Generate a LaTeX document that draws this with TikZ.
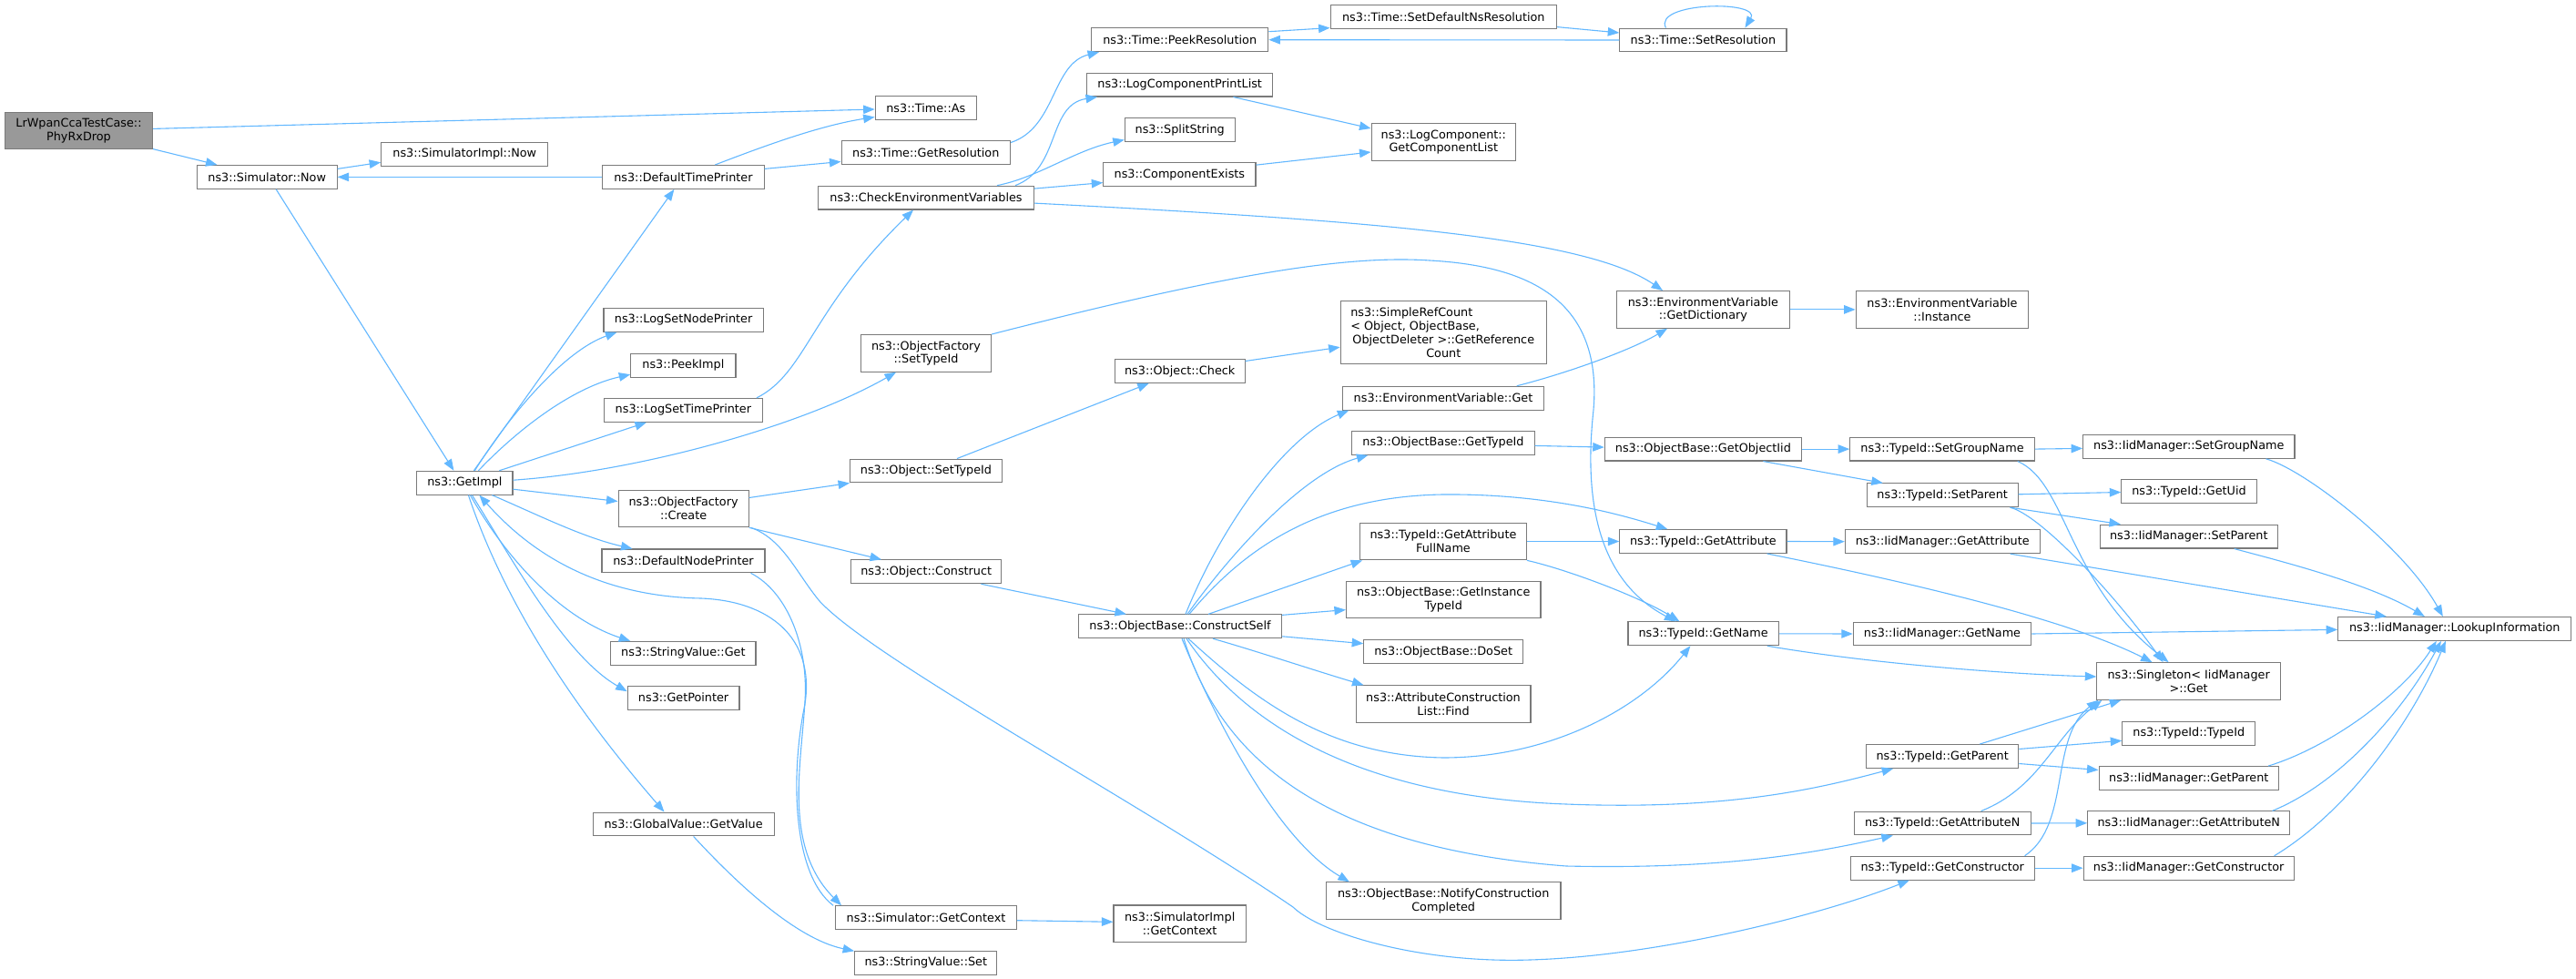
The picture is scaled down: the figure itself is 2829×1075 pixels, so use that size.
\documentclass[tikz,border=0pt]{standalone}
\usepackage{fontspec}
\setmainfont{DejaVu Sans}
\usetikzlibrary{arrows.meta,calc}
\definecolor{edgeblue}{HTML}{63B8FF}
\definecolor{boxgray}{HTML}{7A7A7A}
\definecolor{rootgray}{HTML}{999999}
\begin{document}
\begin{tikzpicture}[x=1pt,y=-1pt,
  fnbox/.style={draw=boxgray, fill=white, line width=1.1pt, inner sep=0pt, align=center,
    font=\fontsize{12.8}{14.8}\selectfont, minimum height=25.8},
  two/.style={minimum height=40.6},
  ln/.style={draw=edgeblue, line width=1.1pt, -{Triangle[length=12.5pt,width=9.5pt]}}]
\fill[white] (0,0) rectangle (2829,1075);
\useasboundingbox (0,0) rectangle (2829,1075);
% ---------------- nodes ----------------
\node[fnbox,two,fill=rootgray,minimum width=162] (lr) at (86.5,143.6) {LrWpanCcaTestCase::\\PhyRxDrop};
\node[fnbox,minimum width=153.8] (simnow) at (293.2,194.4) {ns3::Simulator::Now};
\node[fnbox,minimum width=183.2] (simimplnow) at (510.3,169.3) {ns3::SimulatorImpl::Now};
\node[fnbox,minimum width=177.5] (dtp) at (750.4,194.4) {ns3::DefaultTimePrinter};
\node[fnbox,minimum width=175.2] (lsnp) at (750.6,351.4) {ns3::LogSetNodePrinter};
\node[fnbox,minimum width=115.1] (peek) at (750.4,401.2) {ns3::PeekImpl};
\node[fnbox,minimum width=173.8] (lstp) at (750.4,450.4) {ns3::LogSetTimePrinter};
\node[fnbox,minimum width=105.1] (getimpl) at (510.4,530.2) {ns3::GetImpl};
\node[fnbox,two,minimum width=143.1] (ofcreate) at (750.6,558.5) {ns3::ObjectFactory\\::Create};
\node[fnbox,minimum width=179] (dnp) at (750.5,615.9) {ns3::DefaultNodePrinter};
\node[fnbox,minimum width=159.1] (svget) at (750.4,717.4) {ns3::StringValue::Get};
\node[fnbox,minimum width=122.8] (getptr) at (750.6,766.2) {ns3::GetPointer};
\node[fnbox,minimum width=199.1] (gvget) at (750.6,905) {ns3::GlobalValue::GetValue};
\node[fnbox,minimum width=111.2] (timeas) at (1016.8,118.5) {ns3::Time::As};
\node[fnbox,minimum width=185.5] (getres) at (1016.8,167.5) {ns3::Time::GetResolution};
\node[fnbox,minimum width=236.5] (cev) at (1017,217.1) {ns3::CheckEnvironmentVariables};
\node[fnbox,two,minimum width=142.8] (ofsettype) at (1017,387.9) {ns3::ObjectFactory\\::SetTypeId};
\node[fnbox,minimum width=166.7] (objsettype) at (1017,517) {ns3::Object::SetTypeId};
\node[fnbox,minimum width=165.3] (objconstruct) at (1017.2,627.8) {ns3::Object::Construct};
\node[fnbox,minimum width=198.8] (simgetctx) at (1017,1007.7) {ns3::Simulator::GetContext};
\node[fnbox,minimum width=156.2] (svset) at (1016.8,1057.3) {ns3::StringValue::Set};
\node[fnbox,minimum width=194.2] (peekres) at (1295.7,43.7) {ns3::Time::PeekResolution};
\node[fnbox,minimum width=204.3] (lcpl) at (1295.7,93.1) {ns3::LogComponentPrintList};
\node[fnbox,minimum width=120.8] (split) at (1295.7,142.5) {ns3::SplitString};
\node[fnbox,minimum width=167.1] (compexists) at (1295.4,191.6) {ns3::ComponentExists};
\node[fnbox,minimum width=142.8] (objcheck) at (1295.7,407.5) {ns3::Object::Check};
\node[fnbox,minimum width=223.1] (constructself) at (1296,687.8) {ns3::ObjectBase::ConstructSelf};
\node[fnbox,two,minimum width=145.5] (simimplctx) at (1295.7,1014.3) {ns3::SimulatorImpl\\::GetContext};
\node[fnbox,minimum width=248.4] (setdefns) at (1585.3,18.6) {ns3::Time::SetDefaultNsResolution};
\node[fnbox,two,minimum width=158.5] (lcgcl) at (1585.3,156) {ns3::LogComponent::\\GetComponentList};
\node[fnbox,minimum width=226.3,minimum height=69.2] (simplerefcount) at (1585.3,365.2)
  {\makebox[204pt][l]{ns3::SimpleRefCount}\\\makebox[204pt][l]{< Object, ObjectBase,}\\ObjectDeleter >::GetReference\\Count};
\node[fnbox,minimum width=220.4] (evget) at (1585,437.2) {ns3::EnvironmentVariable::Get};
\node[fnbox,minimum width=200.2] (obgettypeid) at (1585,486.4) {ns3::ObjectBase::GetTypeId};
\node[fnbox,two,minimum width=182.7] (tidgafn) at (1585,594.5) {ns3::TypeId::GetAttribute\\FullName};
\node[fnbox,two,minimum width=213.5] (obgit) at (1585.2,658.6) {ns3::ObjectBase::GetInstance\\TypeId};
\node[fnbox,minimum width=174.9] (doset) at (1585.2,715.7) {ns3::ObjectBase::DoSet};
\node[fnbox,two,minimum width=191.9] (acfind) at (1585,773.1) {ns3::AttributeConstruction\\List::Find};
\node[fnbox,two,minimum width=257.5] (notify) at (1585.2,989.2) {ns3::ObjectBase::NotifyConstruction\\Completed};
\node[fnbox,minimum width=183.2] (setres) at (1870.4,44) {ns3::Time::SetResolution};
\node[fnbox,two,minimum width=189.6] (getdict) at (1870.4,339.9) {ns3::EnvironmentVariable\\::GetDictionary};
\node[fnbox,minimum width=216.2] (getobjiid) at (1870.4,493.1) {ns3::ObjectBase::GetObjectIid};
\node[fnbox,minimum width=183.2] (tidgetattr) at (1870.4,594.5) {ns3::TypeId::GetAttribute};
\node[fnbox,minimum width=165.3] (tidgetname) at (1870.6,695.8) {ns3::TypeId::GetName};
\node[fnbox,two,minimum width=189.7] (evinst) at (2133,339.9) {ns3::EnvironmentVariable\\::Instance};
\node[fnbox,minimum width=202.5] (tidsetgroup) at (2133,493.1) {ns3::TypeId::SetGroupName};
\node[fnbox,minimum width=165.7] (tidsetparent) at (2133.2,543.8) {ns3::TypeId::SetParent};
\node[fnbox,minimum width=213.7] (iidgetattr) at (2133.2,594.7) {ns3::IidManager::GetAttribute};
\node[fnbox,minimum width=195.4] (iidgetname) at (2133,696) {ns3::IidManager::GetName};
\node[fnbox,minimum width=167] (tidgetparent) at (2133.2,830.5) {ns3::TypeId::GetParent};
\node[fnbox,minimum width=193.7] (tidgetattrn) at (2133.2,904) {ns3::TypeId::GetAttributeN};
\node[fnbox,minimum width=201.7] (tidgetctor) at (2133.2,953.2) {ns3::TypeId::GetConstructor};
\node[fnbox,minimum width=232.3] (iidsetgroup) at (2403.8,490.4) {ns3::IidManager::SetGroupName};
\node[fnbox,minimum width=148.3] (tidgetuid) at (2404,539.5) {ns3::TypeId::GetUid};
\node[fnbox,minimum width=194.7] (iidsetparent) at (2403.8,589.1) {ns3::IidManager::SetParent};
\node[fnbox,two,minimum width=201.5] (singleton) at (2403.6,748) {ns3::Singleton< IidManager\\>::Get};
\node[fnbox,minimum width=146] (tidtypeid) at (2403.8,805.3) {ns3::TypeId::TypeId};
\node[fnbox,minimum width=197.5] (iidgetparent) at (2403.8,854.5) {ns3::IidManager::GetParent};
\node[fnbox,minimum width=222.2] (iidgetattrn) at (2403.8,903.8) {ns3::IidManager::GetAttributeN};
\node[fnbox,minimum width=230.9] (iidgetctor) at (2403.6,953.2) {ns3::IidManager::GetConstructor};
\node[fnbox,minimum width=256.2] (lookup) at (2695.8,690.4) {ns3::IidManager::LookupInformation};
% ---------------- edges ----------------
\draw[ln] (lr) -- (timeas);
\draw[ln] (lr) -- (simnow);
\draw[ln] ($(simnow.east)+(0,-9)$) -- ($(simimplnow.west)+(0,9)$);
\draw[ln] ($(simnow.south)+(10,0)$) -- ($(getimpl.north)+(-12,0)$);
\draw[ln] (dtp.west) -- (simnow.east);
\draw[ln] ($(dtp.north)+(35,0)$) .. controls (840,160) and (900,138) .. ($(timeas.west)+(0,10)$);
\draw[ln] ($(dtp.east)+(0,-9)$) -- ($(getres.west)+(0,10)$);
\draw[ln] ($(getres.east)+(0,-11)$) .. controls (1160,140) and (1155,70) .. ($(peekres.south west)+(9,0)$);
\draw[ln] ($(peekres.east)+(0,-9)$) -- ($(setdefns.west)+(0,12)$);
\draw[ln] ($(setdefns.east)+(0,11)$) -- ($(setres.west)+(0,-8)$);
\draw[ln] (setres.west) -- (peekres.east);
\draw[ln] ($(setres.north)+(-41,0)$) .. controls (1815,2) and (1935,0) .. ($(setres.north)+(46,0)$);
\draw[ln] ($(getimpl.north)+(10,0)$) -- ($(dtp.south)+(-10,0)$);
\draw[ln] ($(getimpl.north)+(11,0)$) .. controls (560,455) and (620,385) .. ($(lsnp.south west)+(15,0)$);
\draw[ln] ($(getimpl.north)+(15,0)$) .. controls (570,470) and (630,425) .. ($(peek.west)+(0,10)$);
\draw[ln] ($(getimpl.north)+(38,0)$) -- ($(lstp.south west)+(47,0)$);
\draw[ln] ($(getimpl.east)+(0,-3)$) .. controls (700,518) and (880,468) .. ($(ofsettype.south west)+(39,0)$);
\draw[ln] ($(getimpl.east)+(0,7)$) -- ($(ofcreate.west)+(0,-8)$);
\draw[ln] ($(getimpl.south)+(30,0)$) .. controls (590,565) and (640,590) .. ($(dnp.north west)+(34,0)$);
\draw[ln] ($(simgetctx.north west)+(-2,0)$) .. controls (870,960) and (868,850) .. (884,773)
  .. controls (895,700) and (845,660) .. (770,657) .. controls (660,655) and (585,610) .. ($(getimpl.south)+(16,0)$);
\draw[ln] ($(getimpl.south)+(6,0)$) .. controls (560,620) and (620,680) .. ($(svget.north west)+(22,0)$);
\draw[ln] ($(getimpl.south)+(8,0)$) .. controls (560,610) and (620,720) .. ($(getptr.west)+(0,-7)$);
\draw[ln] ($(getimpl.south)+(4,0)$) .. controls (560,680) and (650,800) .. ($(gvget.north west)+(79,0)$);
\draw[ln] ($(gvget.south)+(11,0)$) .. controls (800,960) and (870,1030) .. ($(svset.west)+(0,-13)$);
\draw[ln] ($(dnp.south east)+(-16,0)$) .. controls (865,650) and (888,710) .. (884,770)
  .. controls (880,840) and (860,930) .. ($(simgetctx.north west)+(7,0)$);
\draw[ln] ($(simgetctx.east)+(0,3)$) -- ($(simimplctx.west)+(0,-2)$);
\draw[ln] ($(lstp.north east)+(-7,0)$) .. controls (885,410) and (890,340) .. ($(cev.south)+(-14,0)$);
\draw[ln] ($(cev.north)+(98,0)$) .. controls (1165,185) and (1150,115) .. ($(lcpl.south west)+(12,0)$);
\draw[ln] ($(cev.north)+(78,0)$) .. controls (1140,195) and (1180,165) .. ($(split.west)+(0,11)$);
\draw[ln] ($(cev.east)+(0,-10)$) -- ($(compexists.west)+(0,9)$);
\draw[ln] ($(cev.east)+(0,6)$) .. controls (1500,242) and (1740,260) .. ($(getdict.north west)+(51,0)$);
\draw[ln] ($(lcpl.south east)+(-44,0)$) -- ($(lcgcl.west)+(0,-15)$);
\draw[ln] ($(compexists.north east)+(0,3)$) -- ($(lcgcl.west)+(0,11)$);
\draw[ln] (ofsettype.north east) .. controls (1350,300) and (1480,280) .. (1570,286)
  .. controls (1680,292) and (1760,330) .. (1750,450) .. controls (1738,560) and (1760,640) .. ($(tidgetname.north west)+(53,0)$);
\draw[ln] ($(ofcreate.east)+(0,-12)$) -- (objsettype.south west);
\draw[ln] (ofcreate.south east) -- ($(objconstruct.north west)+(34,0)$);
\draw[ln] ($(ofcreate.south east)+(2,0)$) .. controls (860,592) and (875,630) .. (900,660)
  .. controls (960,725) and (1250,880) .. (1420,996) .. controls (1450,1025) and (1560,1058) .. (1680,1054)
  .. controls (1820,1050) and (2000,1005) .. ($(tidgetctor.south west)+(65,0)$);
\draw[ln] ($(objsettype.north)+(34,0)$) -- ($(objcheck.south west)+(38,0)$);
\draw[ln] ($(objcheck.east)+(0,-11)$) -- ($(simplerefcount.west)+(0,16)$);
\draw[ln] ($(objconstruct.south east)+(-23,0)$) -- ($(constructself.north west)+(53,0)$);
\draw[ln] ($(constructself.north)+(6,0)$) .. controls (1340,580) and (1410,480) .. ($(evget.south west)+(7,0)$);
\draw[ln] ($(constructself.north)+(8,0)$) .. controls (1350,610) and (1430,520) .. ($(obgettypeid.south west)+(18,0)$);
\draw[ln] ($(constructself.north)+(10,0)$) .. controls (1360,610) and (1440,545) .. (1585,543)
  .. controls (1700,542) and (1780,565) .. ($(tidgetattr.north west)+(53,0)$);
\draw[ln] ($(constructself.north)+(31,0)$) -- ($(tidgafn.south west)+(3,0)$);
\draw[ln] ($(constructself.north east)+(0,1)$) -- ($(obgit.west)+(0,11)$);
\draw[ln] ($(constructself.east)+(0,11)$) -- ($(doset.west)+(0,-9)$);
\draw[ln] ($(constructself.south)+(36,0)$) .. controls (1380,715) and (1440,735) .. ($(acfind.north west)+(9,0)$);
\draw[ln] ($(constructself.south)+(9,0)$) .. controls (1380,770) and (1460,830) .. (1585,832)
  .. controls (1700,832) and (1800,780) .. ($(tidgetname.south west)+(69,0)$);
\draw[ln] ($(constructself.south)+(7,0)$) .. controls (1370,800) and (1500,875) .. (1720,883)
  .. controls (1900,890) and (2000,865) .. ($(tidgetparent.south west)+(30,0)$);
\draw[ln] ($(constructself.south)+(4,0)$) .. controls (1340,830) and (1450,930) .. (1720,951)
  .. controls (1900,955) and (2000,935) .. ($(tidgetattrn.south west)+(43,0)$);
\draw[ln] ($(constructself.south)+(2,0)$) .. controls (1330,780) and (1400,920) .. ($(notify.north west)+(26,0)$);
\draw[ln] ($(evget.north east)+(-30,0)$) .. controls (1720,410) and (1790,385) .. ($(getdict.south west)+(56,0)$);
\draw[ln] (getdict.east) -- (evinst.west);
\draw[ln] ($(obgettypeid.east)+(0,3)$) -- ($(getobjiid.west)+(0,-2)$);
\draw[ln] (getobjiid.east) -- (tidsetgroup.west);
\draw[ln] ($(getobjiid.south)+(66,0)$) -- ($(tidsetparent.north west)+(18,0)$);
\draw[ln] (tidsetgroup.east) -- ($(iidsetgroup.west)+(0,2)$);
\draw[ln] ($(tidsetgroup.south east)+(-19,0)$) .. controls (2270,530) and (2270,640) .. ($(singleton.north)+(-22,0)$);
\draw[ln] ($(tidsetparent.east)+(0,-1)$) -- ($(tidgetuid.west)+(0,1)$);
\draw[ln] ($(tidsetparent.south east)+(-9,0)$) -- ($(iidsetparent.north west)+(23,0)$);
\draw[ln] ($(tidsetparent.south east)+(-9,0)$) .. controls (2240,565) and (2320,650) .. ($(singleton.north)+(-28,0)$);
\draw[ln] ($(iidsetgroup.south east)+(-32,0)$) .. controls (2530,515) and (2640,600) .. ($(lookup.north)+(-13,0)$);
\draw[ln] ($(iidsetparent.south east)+(-48,0)$) .. controls (2500,615) and (2600,640) .. ($(lookup.north)+(-33,0)$);
\draw[ln] (tidgafn.east) -- (tidgetattr.west);
\draw[ln] (tidgafn.south east) .. controls (1720,625) and (1800,655) .. ($(tidgetname.north west)+(57,0)$);
\draw[ln] (tidgetattr.east) -- (iidgetattr.west);
\draw[ln] ($(tidgetattr.south east)+(-22,0)$) .. controls (2100,640) and (2270,680) .. ($(singleton.north)+(-40,0)$);
\draw[ln] ($(iidgetattr.south east)+(-33,0)$) -- ($(lookup.north)+(-75,0)$);
\draw[ln] (tidgetname.east) -- (iidgetname.west);
\draw[ln] ($(tidgetname.south east)+(-13,0)$) .. controls (2050,728) and (2200,740) .. ($(singleton.west)+(0,-5)$);
\draw[ln] (iidgetname.east) -- ($(lookup.west)+(0,1)$);
\draw[ln] ($(tidgetparent.north east)+(-43,0)$) -- ($(singleton.south west)+(27,0)$);
\draw[ln] ($(tidgetparent.east)+(0,-8)$) -- ($(tidtypeid.west)+(0,8)$);
\draw[ln] ($(tidgetparent.east)+(0,8)$) -- ($(iidgetparent.west)+(0,-9)$);
\draw[ln] ($(iidgetparent.north east)+(-12,0)$) .. controls (2560,820) and (2640,760) .. ($(lookup.south)+(-20,0)$);
\draw[ln] ($(tidgetattrn.north east)+(-55,0)$) .. controls (2240,865) and (2255,810) .. ($(singleton.south west)+(6,0)$);
\draw[ln] (tidgetattrn.east) -- (iidgetattrn.west);
\draw[ln] ($(iidgetattrn.north east)+(-20,0)$) .. controls (2570,860) and (2640,780) .. ($(lookup.south)+(-15,0)$);
\draw[ln] ($(tidgetctor.north east)+(-11,0)$) .. controls (2275,905) and (2250,810) .. ($(singleton.south west)+(2,0)$);
\draw[ln] (tidgetctor.east) -- (iidgetctor.west);
\draw[ln] ($(iidgetctor.north east)+(-22,0)$) .. controls (2580,890) and (2650,790) .. ($(lookup.south)+(-10,0)$);
\end{tikzpicture}
\end{document}
